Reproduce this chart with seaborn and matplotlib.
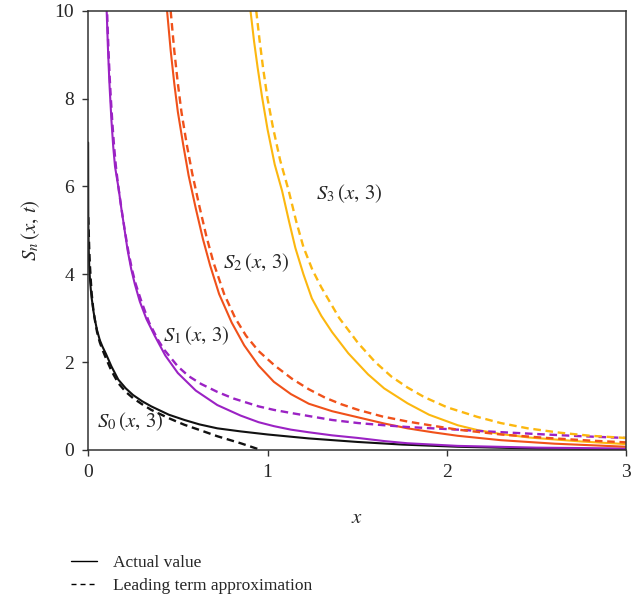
import numpy as np
import pandas as pd
import matplotlib
matplotlib.use("Agg")
import matplotlib.pyplot as plt
import seaborn as sns
from matplotlib.lines import Line2D

# values
s0_x = [0.0, 0.001, 0.003, 0.006, 0.01, 0.015, 0.02, 0.03, 0.04, 0.05, 0.065, 0.08, 0.1, 0.13, 0.168, 0.21, 0.25, 0.3,
        0.352, 0.45, 0.537, 0.62, 0.72, 0.85, 1.0, 1.23, 1.5, 1.75, 2.06, 2.5, 3.0]
s0_y = [7.0, 5.2, 4.6, 4.2, 3.9, 3.65, 3.45, 3.15, 2.92, 2.72, 2.5, 2.35, 2.18, 1.9, 1.6, 1.4, 1.25, 1.11,
        0.99, 0.8, 0.68, 0.58, 0.49, 0.42, 0.35, 0.26, 0.18, 0.12, 0.07, 0.03, 0.01]
s0a_x = [0.001, 0.003, 0.006, 0.01, 0.015, 0.02, 0.03, 0.04, 0.05, 0.065, 0.08, 0.1, 0.13, 0.168, 0.21, 0.25, 0.3,
         0.352, 0.45, 0.537, 0.63, 0.72, 0.85, 0.96]
s0a_y = [5.3, 5.0, 4.6, 4.2, 3.85, 3.55, 3.15, 2.9, 2.68, 2.45, 2.28, 2.08, 1.8, 1.52, 1.32, 1.18, 1.04,
         0.91, 0.72, 0.57, 0.44, 0.31, 0.15, 0.0]

s1_x = [0.100, 0.105, 0.11, 0.115, 0.12, 0.13, 0.14, 0.15, 0.16, 0.17, 0.185, 0.2, 0.22, 0.24, 0.26, 0.288, 0.325,
        0.371, 0.43, 0.5, 0.6, 0.72, 0.85, 0.95, 1.035, 1.13, 1.23, 1.36, 1.505, 1.65, 1.78, 2.06, 2.5, 3.0]
s1_y = [10.4, 9.8, 9.2, 8.7, 8.25, 7.5, 6.9, 6.45, 6.2, 5.95, 5.5, 5.1, 4.55, 4.12, 3.78, 3.38, 2.98,
        2.6, 2.15, 1.75, 1.35, 1.02, 0.78, 0.63, 0.54, 0.46, 0.40, 0.33, 0.27, 0.2, 0.15, 0.09, 0.05, 0.03]
s1a_x = [0.104, 0.109, 0.114, 0.12, 0.126, 0.135, 0.145, 0.155, 0.165, 0.175, 0.19, 0.205, 0.225, 0.245, 0.265,
         0.297, 0.34, 0.39, 0.426, 0.5, 0.56, 0.63, 0.72, 0.81, 0.95, 1.035, 1.13, 1.23, 1.36, 1.505, 1.65, 1.78,
         2.06, 2.22, 2.5, 2.75, 3.0]
s1a_y = [10.2, 9.6, 9.05, 8.5, 8.05, 7.45, 6.9, 6.45, 6.1, 5.8, 5.38, 4.98, 4.5, 4.1, 3.78,
         3.38, 2.9, 2.5, 2.27, 1.9, 1.68, 1.5, 1.32, 1.17, 0.99, 0.91, 0.84, 0.77, 0.68, 0.61, 0.56, 0.52,
         0.46, 0.42, 0.36, 0.31, 0.27]

s2_x = [0.44, 0.46, 0.48, 0.5, 0.53, 0.56, 0.6, 0.64, 0.68, 0.73, 0.8, 0.87, 0.95, 1.035, 1.13, 1.23, 1.36, 1.505,
        1.65, 1.78, 1.92, 2.06, 2.3, 2.6, 3.0]
s2_y = [10.0, 9.1, 8.35, 7.7, 6.95, 6.25, 5.5, 4.8, 4.2, 3.55, 2.9, 2.38, 1.92, 1.55, 1.27, 1.05, 0.88, 0.74,
        0.6, 0.49, 0.4, 0.32, 0.22, 0.14, 0.07]
s2a_x = [0.46, 0.48, 0.5, 0.52, 0.55, 0.58, 0.62, 0.66, 0.7, 0.758, 0.82, 0.88, 0.95, 1.04, 1.136, 1.23, 1.32, 1.41,
         1.505, 1.64, 1.78, 1.92, 2.06, 2.3, 2.56, 2.8, 3.0]
s2a_y = [10.0, 9.1, 8.35, 7.7, 6.95, 6.3, 5.55, 4.85, 4.25, 3.55, 3.0, 2.6, 2.25, 1.92, 1.62, 1.38, 1.19, 1.04,
         0.91, 0.76, 0.645, 0.55, 0.46, 0.35, 0.27, 0.21, 0.17]

s3_x = [0.905, 0.925, 0.945, 0.969, 1.0, 1.04, 1.081, 1.12, 1.155, 1.2, 1.247, 1.3, 1.36, 1.45, 1.56, 1.65, 1.78,
        1.9, 2.06, 2.17, 2.3, 2.46, 2.75, 3.0]
s3_y = [10.0, 9.3, 8.7, 8.05, 7.3, 6.5, 5.9, 5.2, 4.6, 4.0, 3.45, 3.05, 2.68, 2.2, 1.72, 1.4, 1.06,
        0.8, 0.56, 0.45, 0.36, 0.28, 0.19, 0.13]
s3a_x = [0.937, 0.955, 0.975, 1.0, 1.03, 1.07, 1.118, 1.16, 1.2, 1.25, 1.3, 1.34, 1.4, 1.45, 1.505, 1.6, 1.69, 1.78,
         1.874, 2.0, 2.17, 2.3, 2.45, 2.63, 2.8, 3.0]
s3a_y = [10.0, 9.35, 8.7, 8.0, 7.35, 6.6, 5.9, 5.2, 4.62, 4.1, 3.7, 3.42, 3.0, 2.73, 2.43, 2.0, 1.67, 1.42,
         1.2, 0.97, 0.75, 0.61, 0.49, 0.39, 0.32, 0.27]

curve_labels = ["$S_0\\,(x,\\,3)$", "$S_1\\,(x,\\,3)$", "$S_2\\,(x,\\,3)$", "$S_3\\,(x,\\,3)$"]
label_pos = [(0.05, 0.64), (0.415, 2.6), (0.75, 4.26), (1.27, 5.83)]
colors = ["#111111", "#9b22c4", "#f0511a", "#fcb70f"]

sns.set_style("ticks")
plt.rcParams["font.family"] = ["Liberation Serif", "DejaVu Serif"]
plt.rcParams["mathtext.fontset"] = "stix"

fig = plt.figure(figsize=(6.34, 6.03), dpi=100)
ax = fig.add_axes([0.139, 0.254, 0.849, 0.728])

actual = [(s0_x, s0_y), (s1_x, s1_y), (s2_x, s2_y), (s3_x, s3_y)]
approx = [(s0a_x, s0a_y), (s1a_x, s1a_y), (s2a_x, s2a_y), (s3a_x, s3a_y)]

for (xs, ys), c in zip(actual, colors):
    sns.lineplot(x=xs, y=ys, ax=ax, color=c, linewidth=1.5, estimator=None, sort=False)
for (xs, ys), c in zip(approx, colors):
    sns.lineplot(x=xs, y=ys, ax=ax, color=c, linewidth=1.7, estimator=None, sort=False)
    ax.lines[-1].set_dashes((3.2, 2.0))

for lab, (lx, ly) in zip(curve_labels, label_pos):
    ax.text(lx, ly, lab, fontsize=15, ha="left", va="center")

ax.set_xlim(0, 3)
ax.set_ylim(0, 10)
ax.set_xticks([0, 1, 2, 3])
ax.set_yticks([0, 2, 4, 6, 8, 10])
ax.tick_params(labelsize=14, length=4, width=1, color="#333333", pad=6)
for sp in ax.spines.values():
    sp.set_color("#333333")
    sp.set_linewidth(1.1)
ax.set_xlabel("$x$", fontsize=15, labelpad=20)
ax.set_ylabel("$S_n\\,(x,\\,t)$", fontsize=15, labelpad=9)

handles = [Line2D([0], [0], color="black", lw=1.0),
           Line2D([0], [0], color="black", lw=1.0, dashes=(3.6, 2.9))]
fig.legend(handles, ["Actual value", "Leading term approximation"], loc="upper left",
           bbox_to_anchor=(0.088, 0.105), frameon=False, fontsize=12.5,
           handlelength=1.5, handletextpad=0.9, labelspacing=0.35)

fig.savefig("out.png", dpi=100)
